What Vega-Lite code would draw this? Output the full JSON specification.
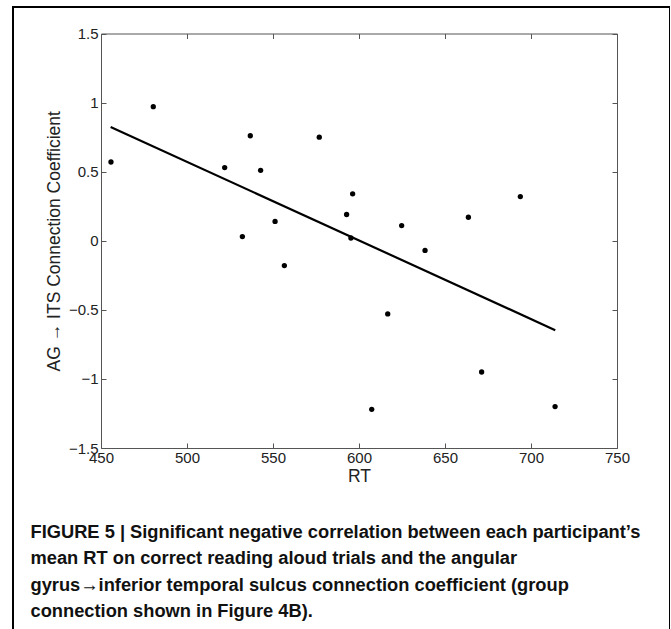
{
  "$schema": "https://vega.github.io/schema/vega-lite/v6.json",
  "width": 657,
  "height": 680,
  "autosize": {"type": "none"},
  "padding": {"left": 13, "top": 7, "right": 0, "bottom": 0},
  "background": "white",
  "config": {
    "view": {"stroke": "black", "strokeWidth": 2},
    "font": "Liberation Sans",
    "axis": {
      "grid": false,
      "domainColor": "#555555",
      "domainWidth": 1,
      "tickColor": "#555555",
      "tickWidth": 1,
      "tickSize": -5,
      "labelColor": "#222222",
      "titleColor": "#222222",
      "labelFont": "Liberation Sans",
      "titleFont": "Liberation Sans",
      "labelFontSize": 15,
      "titleFontSize": 17.5,
      "titleFontWeight": "normal",
      "labelOverlap": false,
      "labelFlush": false
    }
  },
  "datasets": {
    "pts": [
      {"RT": 455.8, "coef": 0.57},
      {"RT": 480.4, "coef": 0.97},
      {"RT": 521.9, "coef": 0.53},
      {"RT": 532.2, "coef": 0.03},
      {"RT": 536.8, "coef": 0.76},
      {"RT": 542.8, "coef": 0.51},
      {"RT": 551.2, "coef": 0.14},
      {"RT": 556.6, "coef": -0.18},
      {"RT": 576.9, "coef": 0.75},
      {"RT": 592.8, "coef": 0.19},
      {"RT": 595.3, "coef": 0.02},
      {"RT": 596.3, "coef": 0.34},
      {"RT": 607.4, "coef": -1.22},
      {"RT": 616.7, "coef": -0.53},
      {"RT": 624.8, "coef": 0.11},
      {"RT": 638.4, "coef": -0.07},
      {"RT": 663.6, "coef": 0.17},
      {"RT": 671.3, "coef": -0.95},
      {"RT": 693.8, "coef": 0.32},
      {"RT": 714.0, "coef": -1.2}
    ],
    "fit": [
      {"RT": 455.6, "coef": 0.824},
      {"RT": 714.1, "coef": -0.647}
    ]
  },
  "layer": [
    {
      "data": {"name": "pts"},
      "mark": {"type": "circle", "size": 28, "color": "black", "opacity": 1},
      "encoding": {
        "x": {
          "field": "RT", "type": "quantitative",
          "scale": {"domain": [450, 750], "range": [88, 604], "nice": false, "zero": false},
          "axis": {
            "orient": "bottom", "offset": -239,
            "values": [450, 500, 550, 600, 650, 700, 750],
            "format": "d", "title": "RT", "titlePadding": 2, "labelPadding": 7
          }
        },
        "y": {
          "field": "coef", "type": "quantitative",
          "scale": {"domain": [-1.5, 1.5], "range": [441, 26.5], "nice": false, "zero": false},
          "axis": {
            "orient": "left", "offset": -88,
            "values": [-1.5, -1, -0.5, 0, 0.5, 1, 1.5],
            "format": "~g", "title": "AG → ITS Connection Coefficient",
            "titlePadding": 5, "labelPadding": 8
          }
        }
      }
    },
    {
      "data": {"name": "fit"},
      "mark": {"type": "line", "color": "black", "strokeWidth": 2.2},
      "encoding": {
        "x": {
          "field": "RT", "type": "quantitative",
          "axis": {
            "orient": "top", "offset": -26.5,
            "values": [450, 500, 550, 600, 650, 700, 750],
            "labels": false, "title": null
          }
        },
        "y": {
          "field": "coef", "type": "quantitative",
          "axis": {
            "orient": "right", "offset": -53,
            "values": [-1.5, -1, -0.5, 0, 0.5, 1, 1.5],
            "labels": false,
            "title": [
              "FIGURE 5 | Significant negative correlation between each participant’s",
              "mean RT on correct reading aloud trials and the angular",
              "gyrus→inferior temporal sulcus connection coefficient (group",
              "connection shown in Figure 4B)."
            ],
            "titleAngle": 0,
            "titleX": -587,
            "titleY": 530,
            "titleAlign": "left",
            "titleBaseline": "alphabetic",
            "titleFont": "Liberation Sans",
            "titleFontWeight": "bold",
            "titleFontSize": 18.3,
            "titleLineHeight": 26.5,
            "titleColor": "#111111"
          }
        }
      }
    }
  ],
  "resolve": {"axis": {"x": "independent", "y": "independent"}}
}
